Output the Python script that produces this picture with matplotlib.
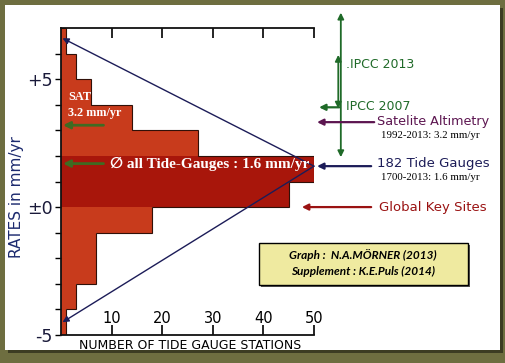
import numpy as np
import matplotlib
matplotlib.use("Agg")
import matplotlib.pyplot as plt
from matplotlib.patches import Rectangle

# histogram of tide gauge rates (mm/yr), 1 mm/yr bins from -5 to +7
bin_edges = np.arange(-5, 8, 1)
counts = [1, 3, 7, 7, 18, 45, 50, 27, 14, 6, 3, 1]
dark_bins = [0, 1]          # lower edges of the dark "all tide-gauges" bins

sat_rate = 3.2
tg_rate = 1.6
key_sites = 0.0
ipcc_2013 = (7.6, 1.95)
ipcc_2007 = (5.95, 3.85)
ipcc_2007_mark = 3.9

ytick_vals = [-5, 0, 5]
ytick_labels = ['-5', '\u00b10', '+5']
xtick_vals = [10, 20, 30, 40, 50]

orange = '#c83b1c'
dark = '#a8160b'
navy = '#1c1c58'
green = '#1f6a28'
purple = '#5c1550'
krd = '#9a1212'

fig = plt.figure(figsize=(5.06, 3.63), dpi=100)
fig.patch.set_facecolor('#6e6e40')
W, H = 506., 363.
# drop shadow + white panel
fig.patches.append(Rectangle((8/W, 1-353/H), 495/W, 345/H, transform=fig.transFigure,
                             fc='#3c3c22', ec='none', zorder=-2))
fig.patches.append(Rectangle((5/W, 1-350/H), 495/W, 345/H, transform=fig.transFigure,
                             fc='white', ec='none', zorder=-1))

ax = fig.add_axes([61/W, 1-335/H, 253/W, 307/H])
ax.set_zorder(1)
ax.set_facecolor('none')
ax.set_xlim(0, 50)
ax.set_ylim(-5, 7)

# bars
for lo, n in zip(bin_edges[:-1], counts):
    c = dark if lo in dark_bins else orange
    ax.barh(lo, n, height=1, left=0, align='edge', color=c, lw=0, zorder=1)
ax.stairs(counts, bin_edges, orientation='horizontal', color='#301008', lw=0.8, zorder=2)

# triangle
apex = (50, tg_rate)
for yend in [6.6, -4.5]:
    ax.annotate('', xy=(0.3, yend), xytext=apex,
                arrowprops=dict(arrowstyle='-|>', color=navy, lw=1.0, mutation_scale=9,
                                shrinkA=0, shrinkB=0), zorder=3)

# inner green arrows and labels
for yv in [sat_rate, tg_rate + 0.1]:
    ax.annotate('', xy=(0.4, yv), xytext=(8.4, yv),
                arrowprops=dict(arrowstyle='-|>', color='#3f6b22', lw=2, mutation_scale=10,
                                shrinkA=0, shrinkB=0), zorder=4)
serif = ['Liberation Serif', 'DejaVu Serif', 'DejaVu Sans']
ax.text(1.4, 4.3, 'SAT', color='white', fontsize=8.8, fontweight='bold', family=serif,
        va='center', zorder=5)
ax.text(1.4, 3.68, '3.2 mm/yr', color='white', fontsize=8.8, fontweight='bold', family=serif,
        va='center', zorder=5)
ax.text(9.7, tg_rate + 0.1, '\u2205 all Tide-Gauges : 1.6 mm/yr', color='white', fontsize=11,
        fontweight='bold', family=serif, va='center', zorder=5)

# right side annotations
def arr(x0, y0, x1, y1, col, style='-|>', lw=1.6):
    ax.annotate('', xy=(x1, y1), xytext=(x0, y0), annotation_clip=False,
                arrowprops=dict(arrowstyle=style, color=col, lw=lw, mutation_scale=9,
                                shrinkA=0, shrinkB=0))

arr(55.3, ipcc_2013[1], 55.3, ipcc_2013[0], green, '<|-|>', 1.3)
arr(54.8, ipcc_2007[1], 54.8, ipcc_2007[0], green, '<|-|>', 1.3)
arr(55.0, ipcc_2007_mark, 51.0, ipcc_2007_mark, green, '-|>', 1.6)
arr(61.9, sat_rate + 0.12, 50.6, sat_rate + 0.12, purple)
arr(61.3, tg_rate, 50.6, tg_rate, navy)
arr(61.3, key_sites, 47.6, key_sites, krd)

ax.text(56.3, 5.57, '.IPCC 2013', color=green, fontsize=9, va='center', clip_on=False)
ax.text(56.3, 3.93, 'IPCC 2007', color=green, fontsize=9, va='center', clip_on=False)
ax.text(62.4, 3.36, 'Satelite Altimetry', color=purple, fontsize=9.2, va='center', clip_on=False)
ax.text(63.3, 2.8, '1992-2013: 3.2 mm/yr', color='black', fontsize=7.8, family=serif,
        va='center', clip_on=False)
ax.text(62.4, 1.7, '182 Tide Gauges', color=navy, fontsize=9.5, va='center', clip_on=False)
ax.text(63.3, 1.14, '1700-2013: 1.6 mm/yr', color='black', fontsize=7.8, family=serif,
        va='center', clip_on=False)
ax.text(62.8, -0.03, 'Global Key Sites', color=krd, fontsize=9.5, va='center', clip_on=False)

# axes styling
ax.spines['right'].set_visible(False)
for s in ['left', 'top', 'bottom']:
    ax.spines[s].set_linewidth(1.3)
    ax.spines[s].set_color('#111111')
ax.set_yticks(ytick_vals)
ax.set_yticklabels(ytick_labels, fontsize=12.5, color='#1a1a3a')
ax.set_yticks(np.arange(-5, 7, 1), minor=True)
ax.tick_params(axis='y', which='both', direction='out', length=4, width=1, pad=2)
ax.set_xticks(xtick_vals)
ax.set_xticklabels([str(v) for v in xtick_vals], fontsize=10.5)
ax.tick_params(axis='x', which='both', direction='in', length=7, width=1.2,
               top=True, pad=-17)
ax.set_xlabel('NUMBER OF TIDE GAUGE STATIONS', fontsize=9)
ax.xaxis.set_label_coords(0.51, -0.012)
ax.set_ylabel('RATES in mm/yr', fontsize=11, color='#1c2a6e')
ax.yaxis.set_label_coords(-0.145, 0.45)

# credits box
bx, by, bw, bh = 259/W, 1-285/H, 209/W, 42/H
fig.patches.append(Rectangle((bx + 2/W, by - 2/H), bw, bh, transform=fig.transFigure,
                             fc='#555555', ec='none', zorder=3))
fig.patches.append(Rectangle((bx, by), bw, bh, transform=fig.transFigure,
                             fc='#efeaa0', ec='black', lw=1, zorder=4))
fig.text(363/W, 1-255/H, 'Graph :  N.A.M\u00d6RNER (2013)', ha='center', va='center',
         fontsize=8.5, family='Lato', fontweight='bold', style='italic', zorder=5)
fig.text(363/W, 1-271/H, 'Supplement : K.E.Puls (2014)', ha='center', va='center',
         fontsize=8.5, family='Lato', fontweight='bold', style='italic', zorder=5)

fig.savefig('out.png', dpi=100, facecolor=fig.get_facecolor())
